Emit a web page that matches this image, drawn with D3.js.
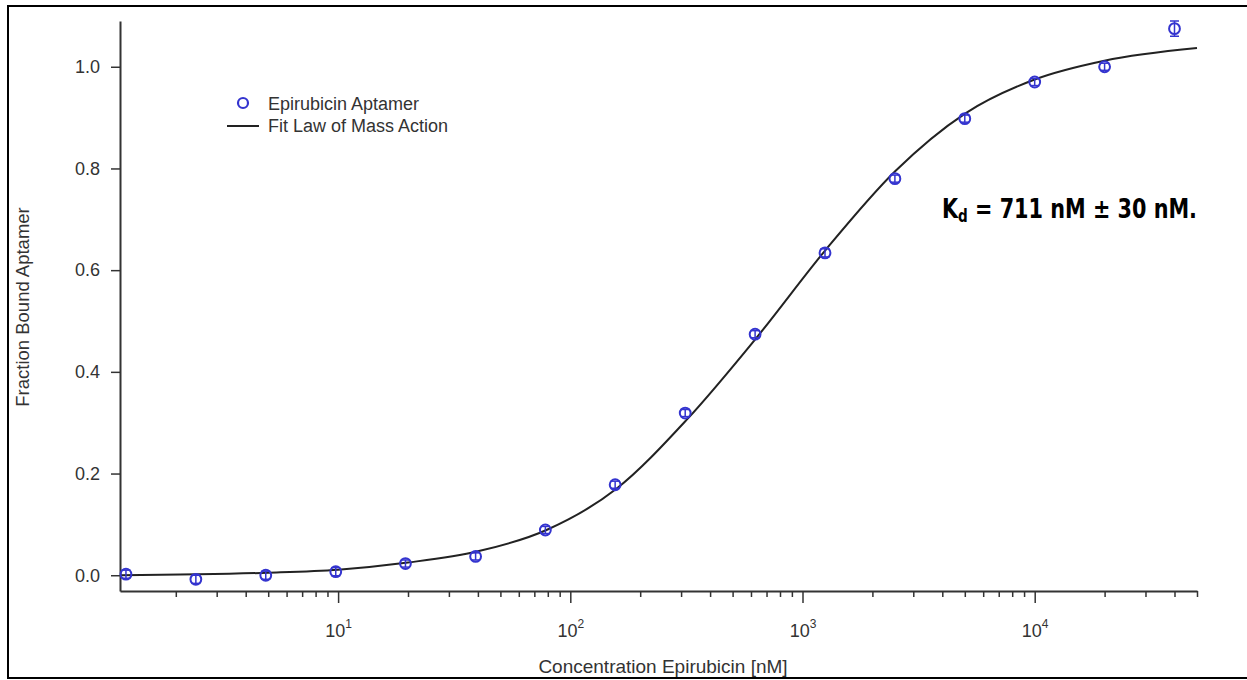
<!DOCTYPE html>
<html>
<head>
<meta charset="utf-8">
<script src="https://cdn.jsdelivr.net/npm/d3@7"></script>
<style>
  body { margin: 0; background: #fff; }
  svg { display: block; }
</style>
</head>
<body>
<svg id="chart" width="1247" height="680"></svg>
<script>
// measured points (2-fold dilution series, nM)
const concentrations = [1.22, 2.44, 4.88, 9.77, 19.5, 39.1, 78.1, 156, 312.5, 625, 1250, 2500, 5000, 10000, 20000, 40000];
const fractionBound = [0.002, -0.008, 0.0, 0.007, 0.023, 0.037, 0.089, 0.178, 0.319, 0.474, 0.634, 0.780, 0.898, 0.970, 1.000, 1.075];
const errors = [0.008, 0.008, 0.008, 0.008, 0.007, 0.007, 0.007, 0.007, 0.007, 0.007, 0.008, 0.007, 0.007, 0.007, 0.007, 0.015];

// fit curve
const fitConc = [1.15, 5, 10, 20, 40, 79, 158, 316, 631, 1259, 2512, 5012, 10000, 19950, 50000];
const fitBound = [0.0, 0.005, 0.011, 0.025, 0.047, 0.089, 0.170, 0.305, 0.466, 0.640, 0.795, 0.908, 0.975, 1.012, 1.037];

const yTicks = [0.0, 0.2, 0.4, 0.6, 0.8, 1.0];
const xMajor = [10, 100, 1000, 10000];

const svg = d3.select("#chart");
const ink = "#333";
const blue = "#3434cf";
const font = "'Liberation Sans', Arial, sans-serif";

// frame around the picture
svg.append("rect")
  .attr("x", 8).attr("y", 6)
  .attr("width", 1245).attr("height", 672)
  .attr("fill", "none")
  .attr("stroke", "#000")
  .attr("stroke-width", 2);

const x = d3.scaleLog().domain([1.15, 50000]).range([120, 1197]);
const y = d3.scaleLinear().domain([-0.031, 1.09]).range([591, 21]);

// y axis
const yAxis = svg.append("g")
  .attr("transform", "translate(120,0)")
  .call(d3.axisLeft(y).tickValues(yTicks).tickFormat(d3.format(".1f")).tickSize(9).tickPadding(11).tickSizeOuter(0));
yAxis.select(".domain").attr("stroke", ink).attr("stroke-width", 2);
yAxis.selectAll(".tick line").attr("stroke", ink).attr("stroke-width", 1.5);
yAxis.selectAll("text").attr("fill", ink).style("font", "18px " + font);

// x axis: minor ticks
const minor = x.ticks().filter(d => !xMajor.includes(d));
const xMinor = svg.append("g")
  .attr("transform", "translate(0,591)")
  .call(d3.axisBottom(x).tickValues(minor).tickFormat("").tickSize(6).tickSizeOuter(0));
xMinor.select(".domain").attr("stroke", ink).attr("stroke-width", 2);
xMinor.selectAll(".tick line").attr("stroke", ink).attr("stroke-width", 1.5);

// x axis: major ticks with 10^n labels
const xMaj = svg.append("g")
  .attr("transform", "translate(0,591)")
  .call(d3.axisBottom(x).tickValues(xMajor).tickFormat("").tickSize(12).tickSizeOuter(0));
xMaj.select(".domain").remove();
xMaj.selectAll(".tick line").attr("stroke", ink).attr("stroke-width", 1.5);
xMaj.selectAll(".tick").append("text")
  .attr("y", 46)
  .attr("fill", ink)
  .attr("text-anchor", "middle")
  .style("font", "18px " + font)
  .each(function (d) {
    const t = d3.select(this);
    t.append("tspan").text("10");
    t.append("tspan").attr("dy", -9).style("font-size", "12px").text(Math.round(Math.log10(d)));
  });

// axis titles
svg.append("text")
  .attr("x", 663).attr("y", 673)
  .attr("text-anchor", "middle")
  .attr("fill", ink)
  .style("font", "19px " + font)
  .text("Concentration Epirubicin [nM]");

svg.append("text")
  .attr("transform", "rotate(-90)")
  .attr("x", -307).attr("y", 29)
  .attr("text-anchor", "middle")
  .attr("fill", ink)
  .style("font", "18.5px " + font)
  .text("Fraction Bound Aptamer");

// fit line
const line = d3.line()
  .x((d, i) => x(fitConc[i]))
  .y(d => y(d))
  .curve(d3.curveMonotoneX);

svg.append("path")
  .datum(fitBound)
  .attr("fill", "none")
  .attr("stroke", "#222")
  .attr("stroke-width", 2)
  .attr("d", line);

// error bars + markers
const pts = svg.append("g").selectAll("g")
  .data(fractionBound)
  .enter()
  .append("g")
  .attr("transform", (d, i) => `translate(${x(concentrations[i])},0)`);

pts.append("line")
  .attr("y1", (d, i) => y(d - errors[i]))
  .attr("y2", (d, i) => y(d + errors[i]))
  .attr("stroke", blue).attr("stroke-width", 1.5);
pts.append("line")
  .attr("x1", -4.5).attr("x2", 4.5)
  .attr("y1", (d, i) => y(d - errors[i])).attr("y2", (d, i) => y(d - errors[i]))
  .attr("stroke", blue).attr("stroke-width", 1.5);
pts.append("line")
  .attr("x1", -4.5).attr("x2", 4.5)
  .attr("y1", (d, i) => y(d + errors[i])).attr("y2", (d, i) => y(d + errors[i]))
  .attr("stroke", blue).attr("stroke-width", 1.5);
pts.append("circle")
  .attr("cy", d => y(d))
  .attr("r", 5.4)
  .attr("fill", "none")
  .attr("stroke", blue)
  .attr("stroke-width", 2);

// legend
const legend = svg.append("g").style("font", "18px " + font);
legend.append("circle").attr("cx", 243).attr("cy", 103).attr("r", 5)
  .attr("fill", "none").attr("stroke", blue).attr("stroke-width", 2.2);
legend.append("text").attr("x", 268).attr("y", 109.5).attr("fill", ink).text("Epirubicin Aptamer");
legend.append("line").attr("x1", 227).attr("x2", 259).attr("y1", 126).attr("y2", 126)
  .attr("stroke", "#222").attr("stroke-width", 2);
legend.append("text").attr("x", 268).attr("y", 131.5).attr("fill", ink).text("Fit Law of Mass Action");

// Kd annotation
const kd = svg.append("text")
  .attr("x", 942).attr("y", 218)
  .attr("fill", "#000")
  .attr("textLength", 255)
  .attr("lengthAdjust", "spacingAndGlyphs")
  .style("font", "bold 26px 'DejaVu Sans Condensed', 'Liberation Sans Narrow', sans-serif");
kd.append("tspan").text("K");
kd.append("tspan").attr("dy", 4).style("font-size", "17px").text("d");
kd.append("tspan").attr("dy", -4).text(" = 711 nM \u00b1 30 nM.");
</script>
</body>
</html>
